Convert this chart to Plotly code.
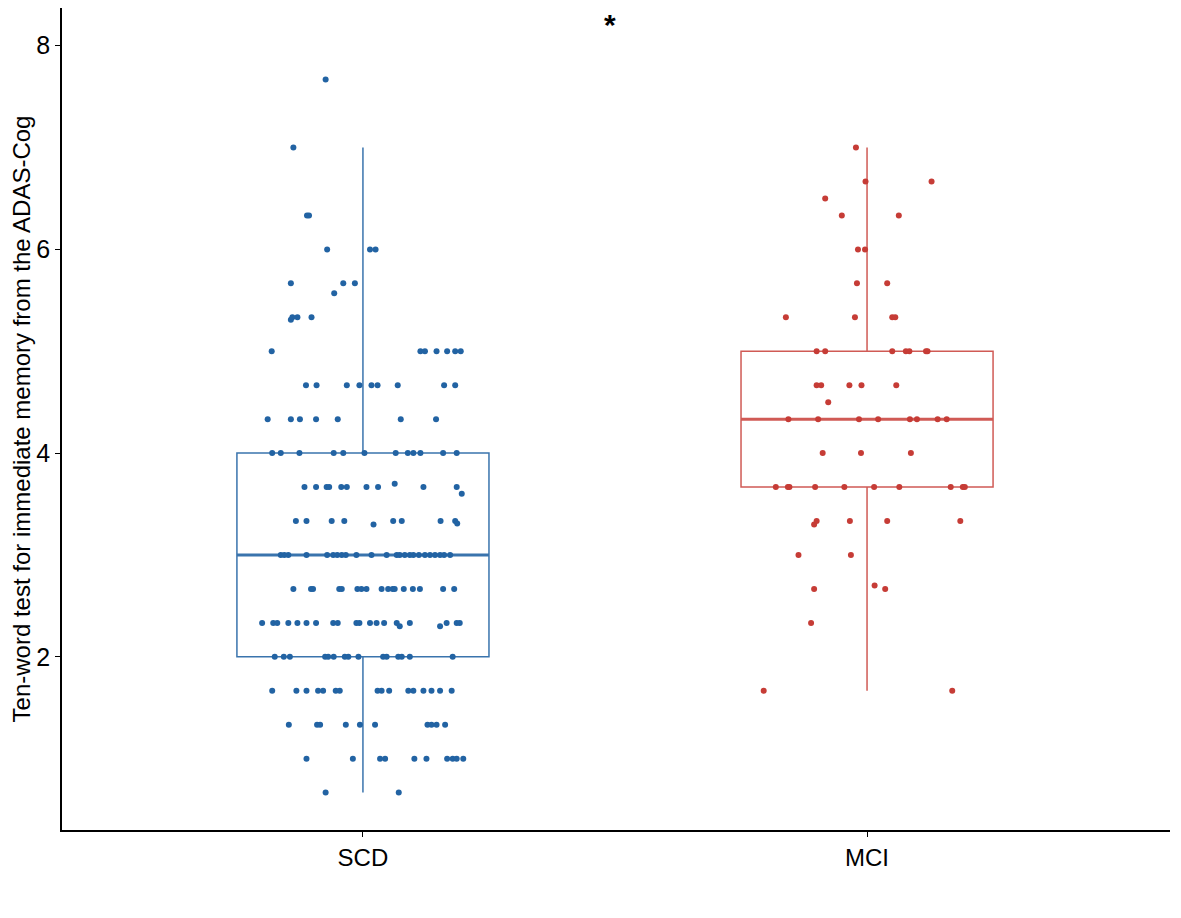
import numpy as np
import plotly.graph_objects as go

groups = ["SCD", "MCI"]
y_ticks = [2, 4, 6, 8]
y_title = "Ten-word test for immediate memory from the ADAS-Cog"

# SCD scores, row by row (top to bottom) with the horizontal jitter
scd_scores = (
    [7.667, 7.0, 6.333, 6.333, 6.0, 6.0, 6.0, 5.667, 5.667, 5.667, 5.57]
    + [5.31, 5.333, 5.333, 5.333]
    + [5.0] * 7
    + [4.667] * 9
    + [4.333] * 7
    + [4.0] * 12
    + [3.667] * 10 + [3.70, 3.60]
    + [3.333] * 8 + [3.30, 3.31]
    + [3.0] * 24
    + [2.667] * 17
    + [2.333] * 19 + [2.30, 2.30]
    + [2.0] * 15
    + [1.667] * 16
    + [1.333] * 10
    + [1.0] * 10
    + [0.667] * 2
)
scd_jitter = (
    [-0.074, -0.138, -0.111, -0.107, -0.071, 0.014, 0.025, -0.143, -0.039, -0.016, -0.057]
    + [-0.143, -0.140, -0.130, -0.102]
    + [-0.181, 0.114, 0.123, 0.146, 0.167, 0.183, 0.194]
    + [-0.113, -0.092, -0.032, -0.007, 0.017, 0.029, 0.069, 0.161, 0.183]
    + [-0.189, -0.143, -0.125, -0.093, -0.050, 0.075, 0.145]
    + [-0.180, -0.163, -0.126, -0.058, -0.039, 0.003, 0.065, 0.089, 0.100, 0.114, 0.159, 0.186]
    + [-0.116, -0.093, -0.072, -0.067, -0.043, -0.032, 0.007, 0.030, 0.120, 0.186, 0.063, 0.196]
    + [-0.133, -0.112, -0.062, -0.037, 0.060, 0.077, 0.154, 0.183, 0.021, 0.187]
    + [-0.163, -0.156, -0.148, -0.112, -0.071, -0.059, -0.051, -0.042, -0.034, -0.013, 0.017, 0.047,
       0.067, 0.073, 0.083, 0.093, 0.100, 0.111, 0.123, 0.133, 0.143, 0.153, 0.161, 0.173]
    + [-0.138, -0.103, -0.099, -0.047, -0.042, -0.011, -0.003, 0.007, 0.037, 0.050, 0.059, 0.063,
       0.081, 0.099, 0.113, 0.159, 0.181]
    + [-0.200, -0.178, -0.170, -0.148, -0.130, -0.112, -0.093, -0.059, -0.050, -0.013, -0.007, 0.014,
       0.027, 0.042, 0.067, 0.093, 0.166, 0.186, 0.192, 0.073, 0.153]
    + [-0.175, -0.157, -0.145, -0.075, -0.069, -0.058, -0.036, -0.029, -0.009, 0.040, 0.047, 0.070,
       0.077, 0.093, 0.178]
    + [-0.180, -0.132, -0.112, -0.089, -0.079, -0.054, -0.046, 0.029, 0.037, 0.052, 0.090, 0.100,
       0.120, 0.136, 0.153, 0.176]
    + [-0.147, -0.091, -0.085, -0.034, -0.006, 0.024, 0.128, 0.136, 0.146, 0.163]
    + [-0.112, -0.020, 0.034, 0.044, 0.102, 0.126, 0.167, 0.178, 0.186, 0.199]
    + [-0.074, 0.071]
)

mci_scores = (
    [7.0, 6.667, 6.667, 6.5, 6.333, 6.333, 6.0, 6.0, 5.667, 5.667]
    + [5.333] * 4
    + [5.0] * 7
    + [4.667] * 5 + [4.5]
    + [4.333] * 8
    + [4.0] * 3
    + [3.667] * 10
    + [3.30, 3.333, 3.333, 3.333, 3.333]
    + [3.0, 3.0]
    + [2.667, 2.667, 2.70]
    + [2.333]
    + [1.667, 1.667]
)
mci_jitter = (
    [-0.022, -0.003, 0.128, -0.083, -0.050, 0.063, -0.018, -0.004, -0.020, 0.040]
    + [-0.161, -0.024, 0.050, 0.056]
    + [-0.100, -0.083, 0.050, 0.077, 0.084, 0.117, 0.120]
    + [-0.100, -0.091, -0.035, -0.011, 0.058, -0.077]
    + [-0.156, -0.097, -0.016, 0.022, 0.085, 0.099, 0.140, 0.158]
    + [-0.088, -0.012, 0.087]
    + [-0.181, -0.157, -0.154, -0.103, -0.045, 0.014, 0.064, 0.166, 0.190, 0.194]
    + [-0.105, -0.100, -0.034, 0.040, 0.185]
    + [-0.136, -0.032]
    + [-0.105, 0.036, 0.015]
    + [-0.111]
    + [-0.205, 0.169]
)

colors = {"SCD": "#2263a3", "MCI": "#c63c36"}
box_colors = {"SCD": "#3a74ad", "MCI": "#d05a55"}
box_width = 0.5


def box_stats(vals):
    v = np.array(vals)
    q1, med, q3 = np.percentile(v, [25, 50, 75])
    iqr = q3 - q1
    lo = v[v >= q1 - 1.5 * iqr - 0.01].min()
    hi = v[v <= q3 + 1.5 * iqr + 0.01].max()
    return q1, med, q3, lo, hi


fig = go.Figure()
for i, (name, vals, jit) in enumerate(
    [("SCD", scd_scores, scd_jitter), ("MCI", mci_scores, mci_jitter)]
):
    q1, med, q3, lo, hi = box_stats(vals)
    fig.add_trace(
        go.Box(
            x=[i], q1=[q1], median=[med], q3=[q3], lowerfence=[lo], upperfence=[hi],
            width=box_width, whiskerwidth=0,
            line=dict(color=box_colors[name], width=1.5),
            fillcolor="rgba(0,0,0,0)", showlegend=False, hoverinfo="skip",
        )
    )
    # thicker median like ggplot
    fig.add_trace(
        go.Scatter(
            x=[i - box_width / 2, i + box_width / 2], y=[med, med], mode="lines",
            line=dict(color=box_colors[name], width=3), showlegend=False, hoverinfo="skip",
        )
    )
    fig.add_trace(
        go.Scatter(
            x=i + np.array(jit), y=vals, mode="markers", name=name,
            marker=dict(color=colors[name], size=6), showlegend=False,
        )
    )

fig.add_annotation(
    x=0.49, y=8.21, xref="x", yref="y", text="<b>*</b>", showarrow=False,
    font=dict(size=30, color="black"),
)

# page body has an 8px margin, so the figure is a bit smaller than the window
fig.update_layout(
    width=1165, height=902,
    paper_bgcolor="white", plot_bgcolor="white",
    margin=dict(l=54, r=3, t=0, b=80),
    font=dict(family="Liberation Sans, Arial, sans-serif", color="black", size=24),
)
fig.update_xaxes(
    range=[-0.597, 1.601], tickvals=[0, 1], ticktext=groups, automargin=False,
    showline=True, linecolor="black", linewidth=1.5,
    ticks="outside", ticklen=5, tickcolor="black", showgrid=False, zeroline=False,
    tickfont=dict(size=24),
)
fig.update_yaxes(
    range=[0.30, 8.37], tickvals=y_ticks, automargin=False,
    showline=True, linecolor="black", linewidth=1.5,
    ticks="outside", ticklen=5, tickcolor="black", showgrid=False, zeroline=False,
    tickfont=dict(size=25),
    title=dict(text=y_title, font=dict(size=24), standoff=6),
)

fig.write_html("out.html")
